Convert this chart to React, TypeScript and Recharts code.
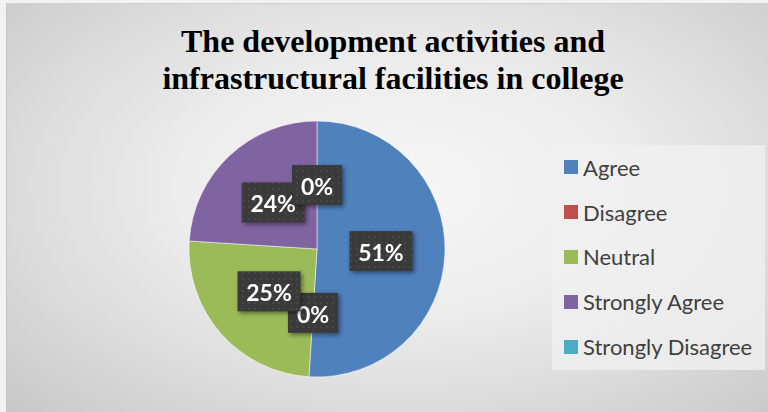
import React from 'react';
import { PieChart, Pie, Cell, Legend } from 'recharts';

const categories = ['Agree', 'Disagree', 'Neutral', 'Strongly Agree', 'Strongly Disagree'];
const values = [51, 0, 25, 24, 0];
const colors = ['#4f81bd', '#c0504d', '#9bbb59', '#8064a2', '#4bacc6'];
const titleLines = ['The development activities and', 'infrastructural facilities in college'];

const data = categories.map((name, i) => ({ name, value: values[i] }));

const RAD = Math.PI / 180;

const renderLabel = (props: any) => {
  const { cx, cy, midAngle, outerRadius, percent, index } = props;
  const r = outerRadius * 0.5;
  const x = cx + r * Math.cos(-midAngle * RAD);
  const y = cy + r * Math.sin(-midAngle * RAD);
  const text = `${Math.round(percent * 100)}%`;
  const digits = text.length - 1;
  const w = 37 + 13 * digits;
  const h = 40;
  const pid = `dots-${index}`;
  return (
    <g key={`lbl-${index}`} style={{ filter: 'drop-shadow(2px 2px 2px rgba(0,0,0,0.45))' }}>
      <defs>
        <pattern id={pid} width="6" height="6" patternUnits="userSpaceOnUse">
          <rect width="6" height="6" fill="#3a3a3a" />
          <circle cx="3" cy="3" r="0.8" fill="#585858" />
        </pattern>
      </defs>
      <rect x={x - w / 2} y={y - h / 2} width={w} height={h} fill={`url(#${pid})`} />
      <text
        x={x}
        y={y + 1}
        textAnchor="middle"
        dominantBaseline="central"
        fill="#ffffff"
        fontFamily="Lato, 'Open Sans', sans-serif"
        fontWeight={700}
        fontSize={23}
      >
        {text}
      </text>
    </g>
  );
};

const renderLegend = (props: any) => {
  const { payload } = props;
  return (
    <div
      style={{
        width: 213,
        height: 225,
        background: 'rgba(240,240,240,0.8)',
        boxSizing: 'border-box',
        paddingTop: 0,
        paddingLeft: 12,
      }}
    >
      {(payload || []).map((entry: any, i: number) => (
        <div
          key={i}
          style={{
            display: 'flex',
            alignItems: 'center',
            height: 44.8,
            fontFamily: "Lato, 'Open Sans', sans-serif",
            fontSize: 22,
            color: '#404040',
            whiteSpace: 'nowrap',
          }}
        >
          <span
            style={{
              display: 'inline-block',
              width: 14,
              height: 14,
              background: entry.color,
              marginRight: 5,
            }}
          />
          <span>{entry.value}</span>
        </div>
      ))}
    </div>
  );
};

export default function App() {
  return (
    <div style={{ position: 'absolute', left: 0, top: 0, width: 768, height: 412, background: '#f2f2f2', overflow: 'hidden' }}>
      <div
        style={{
          position: 'absolute',
          left: 6,
          top: 3,
          width: 762,
          height: 409,
          borderLeft: '1px solid #c4c4c4',
          borderTop: '1px solid #d0d0d0',
          boxSizing: 'border-box',
          background: 'radial-gradient(ellipse 75% 80% at 52% 45%, #f7f7f7 0%, #ececec 40%, #dadada 70%, #c6c6c6 100%)',
        }}
      />
      <div
        style={{
          position: 'absolute',
          left: 6,
          top: 23,
          width: 774,
          textAlign: 'center',
          fontFamily: "'Liberation Serif', 'Times New Roman', serif",
          fontWeight: 700,
          fontSize: 32,
          lineHeight: '37px',
          color: '#000',
        }}
      >
        {titleLines.map((t, i) => (
          <div key={i}>{t}</div>
        ))}
      </div>
      <PieChart
        width={768}
        height={412}
        margin={{ top: 0, right: 0, bottom: 0, left: 0 }}
        style={{ position: 'absolute', left: 0, top: 0 }}
      >
        <Pie
          data={data}
          dataKey="value"
          nameKey="name"
          cx={317}
          cy={249}
          outerRadius={128}
          startAngle={90}
          endAngle={-270}
          stroke="#ffffff"
          strokeWidth={0.5}
          labelLine={false}
          label={renderLabel}
          isAnimationActive={false}
        >
          {data.map((d, i) => (
            <Cell key={d.name} fill={colors[i]} />
          ))}
        </Pie>
        <Legend
          layout="vertical"
          align="right"
          verticalAlign="middle"
          content={renderLegend}
          wrapperStyle={{ left: 552, top: 145, right: 'auto', bottom: 'auto', width: 213, height: 225 }}
        />
      </PieChart>
    </div>
  );
}
